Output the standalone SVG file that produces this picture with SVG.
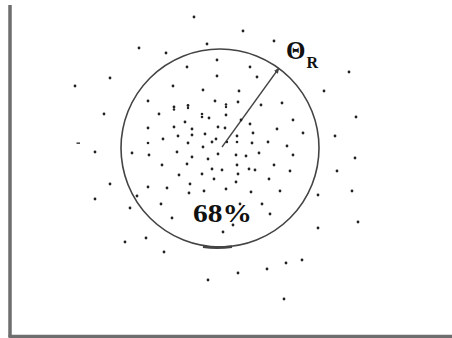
<svg xmlns="http://www.w3.org/2000/svg" width="452" height="338" viewBox="0 0 452 338">
<style>
.d{fill:#222}
.axis{stroke:#6e6e6e;stroke-width:3.5;fill:none}
.ring{stroke:#444;stroke-width:1.6;fill:none}
.lbl{font-family:"Liberation Serif","Times New Roman",serif;fill:#111}
</style>
<defs>
<marker id="ah" viewBox="0 0 10 10" refX="9" refY="5" markerWidth="6" markerHeight="6" orient="auto" markerUnits="userSpaceOnUse">
<path d="M0,1 L10,5 L0,9 z" fill="#444"/>
</marker>
</defs>
<rect width="452" height="338" fill="#fff"/>
<g id="axes">
<line class="axis" x1="10" y1="5" x2="10" y2="337"/>
<line class="axis" x1="8.5" y1="336.5" x2="452" y2="336.5" stroke-width="2.5"/>
</g>
<g id="circle">
<circle class="ring" cx="220" cy="148" r="99"/>
<path d="M203,246.8 Q218,248.6 232,246.6" stroke="#444" stroke-width="2.6" fill="none"/>
</g>
<g id="connectors">
<line x1="222" y1="147" x2="279" y2="68" stroke="#444" stroke-width="1.3" marker-end="url(#ah)"/>
</g>
<g id="dots">
<circle class="d" cx="194" cy="17" r="1.4"/>
<circle class="d" cx="207" cy="44" r="1.4"/>
<circle class="d" cx="139" cy="48" r="1.4"/>
<circle class="d" cx="166" cy="53" r="1.4"/>
<circle class="d" cx="243" cy="31" r="1.4"/>
<circle class="d" cx="274" cy="41" r="1.4"/>
<circle class="d" cx="110" cy="78" r="1.4"/>
<circle class="d" cx="75" cy="86" r="1.4"/>
<circle class="d" cx="349" cy="72" r="1.4"/>
<circle class="d" cx="324" cy="91" r="1.4"/>
<circle class="d" cx="356" cy="117" r="1.4"/>
<circle class="d" cx="335" cy="136" r="1.4"/>
<circle class="d" cx="104" cy="114" r="1.4"/>
<rect class="d" x="76.5" y="142.5" width="3.5" height="1.3"/>
<circle class="d" cx="95" cy="152" r="1.4"/>
<circle class="d" cx="355" cy="158" r="1.4"/>
<circle class="d" cx="110" cy="184" r="1.4"/>
<circle class="d" cx="95" cy="199" r="1.4"/>
<circle class="d" cx="352" cy="191" r="1.4"/>
<circle class="d" cx="358" cy="222" r="1.4"/>
<circle class="d" cx="318" cy="228" r="1.4"/>
<circle class="d" cx="318" cy="195" r="1.4"/>
<circle class="d" cx="337" cy="171" r="1.4"/>
<circle class="d" cx="125" cy="242" r="1.4"/>
<circle class="d" cx="146" cy="238" r="1.4"/>
<circle class="d" cx="164" cy="252" r="1.4"/>
<circle class="d" cx="208" cy="280" r="1.4"/>
<circle class="d" cx="238" cy="273" r="1.4"/>
<circle class="d" cx="267" cy="269" r="1.4"/>
<circle class="d" cx="286" cy="263" r="1.4"/>
<circle class="d" cx="302" cy="260" r="1.4"/>
<circle class="d" cx="284" cy="299" r="1.4"/>
<circle class="d" cx="130" cy="208" r="1.4"/>
<circle class="d" cx="217" cy="60" r="1.4"/>
<circle class="d" cx="187" cy="67" r="1.4"/>
<circle class="d" cx="250" cy="67" r="1.4"/>
<circle class="d" cx="217" cy="76" r="1.4"/>
<circle class="d" cx="257" cy="77" r="1.4"/>
<circle class="d" cx="173" cy="86" r="1.4"/>
<circle class="d" cx="203" cy="90" r="1.4"/>
<circle class="d" cx="239" cy="91" r="1.4"/>
<circle class="d" cx="148" cy="101" r="1.4"/>
<circle class="d" cx="215" cy="101" r="1.4"/>
<circle class="d" cx="238" cy="102" r="1.4"/>
<circle class="d" cx="174" cy="107" r="1.4"/>
<circle class="d" cx="174" cy="109.5" r="1.2"/>
<circle class="d" cx="188" cy="105.5" r="1.4"/>
<circle class="d" cx="188" cy="108" r="1.2"/>
<circle class="d" cx="226" cy="104.5" r="1.3"/>
<circle class="d" cx="226" cy="107" r="1.2"/>
<circle class="d" cx="261" cy="105" r="1.4"/>
<circle class="d" cx="282" cy="103" r="1.4"/>
<circle class="d" cx="159" cy="114" r="1.4"/>
<circle class="d" cx="202" cy="114" r="1.3"/>
<circle class="d" cx="202" cy="117" r="1.3"/>
<circle class="d" cx="209" cy="118" r="1.4"/>
<circle class="d" cx="226" cy="115" r="1.4"/>
<circle class="d" cx="185" cy="122" r="1.4"/>
<circle class="d" cx="241" cy="120" r="1.4"/>
<circle class="d" cx="293" cy="120" r="1.4"/>
<circle class="d" cx="250" cy="124" r="1.4"/>
<circle class="d" cx="148" cy="128" r="1.4"/>
<circle class="d" cx="174" cy="127" r="1.4"/>
<circle class="d" cx="192" cy="129" r="1.4"/>
<circle class="d" cx="218" cy="127" r="1.4"/>
<circle class="d" cx="225" cy="128" r="1.4"/>
<circle class="d" cx="277" cy="129" r="1.4"/>
<circle class="d" cx="303" cy="133" r="1.4"/>
<circle class="d" cx="178" cy="136" r="1.4"/>
<circle class="d" cx="192" cy="135" r="1.4"/>
<circle class="d" cx="205" cy="134" r="1.4"/>
<circle class="d" cx="216" cy="139" r="1.4"/>
<circle class="d" cx="237" cy="136" r="1.4"/>
<circle class="d" cx="253" cy="133" r="1.4"/>
<circle class="d" cx="163" cy="139" r="1.4"/>
<circle class="d" cx="148" cy="143" r="1.3"/>
<circle class="d" cx="188" cy="143" r="1.4"/>
<circle class="d" cx="212" cy="142" r="1.4"/>
<circle class="d" cx="237" cy="142" r="1.3"/>
<circle class="d" cx="252" cy="143" r="1.4"/>
<circle class="d" cx="268" cy="142" r="1.4"/>
<circle class="d" cx="203" cy="147" r="1.4"/>
<circle class="d" cx="287" cy="146" r="1.4"/>
<circle class="d" cx="227" cy="142" r="1.2"/>
<circle class="d" cx="132" cy="153" r="1.4"/>
<circle class="d" cx="149" cy="155" r="1.4"/>
<circle class="d" cx="177" cy="152" r="1.4"/>
<circle class="d" cx="192" cy="157" r="1.4"/>
<circle class="d" cx="208" cy="159" r="1.4"/>
<circle class="d" cx="218" cy="154" r="1.4"/>
<circle class="d" cx="236" cy="155" r="1.4"/>
<circle class="d" cx="246" cy="156" r="1.4"/>
<circle class="d" cx="259" cy="153" r="1.4"/>
<circle class="d" cx="293" cy="155" r="1.4"/>
<circle class="d" cx="162" cy="165" r="1.4"/>
<circle class="d" cx="187" cy="164" r="1.4"/>
<circle class="d" cx="222" cy="170" r="1.4"/>
<circle class="d" cx="237" cy="165" r="1.4"/>
<circle class="d" cx="249" cy="169" r="1.4"/>
<circle class="d" cx="255" cy="170" r="1.4"/>
<circle class="d" cx="274" cy="165" r="1.4"/>
<circle class="d" cx="179" cy="175" r="1.4"/>
<circle class="d" cx="202" cy="174" r="1.4"/>
<circle class="d" cx="212" cy="169" r="1.4"/>
<circle class="d" cx="238" cy="174" r="1.4"/>
<circle class="d" cx="214" cy="179" r="1.4"/>
<circle class="d" cx="236" cy="182" r="1.4"/>
<circle class="d" cx="269" cy="179" r="1.4"/>
<circle class="d" cx="290" cy="171" r="1.4"/>
<circle class="d" cx="148" cy="187" r="1.4"/>
<circle class="d" cx="167" cy="188" r="1.4"/>
<circle class="d" cx="190" cy="184" r="1.4"/>
<circle class="d" cx="189" cy="193" r="1.4"/>
<circle class="d" cx="204" cy="191" r="1.4"/>
<circle class="d" cx="226" cy="189" r="1.4"/>
<circle class="d" cx="251" cy="192" r="1.4"/>
<circle class="d" cx="280" cy="191" r="1.4"/>
<circle class="d" cx="137" cy="196" r="1.4"/>
<circle class="d" cx="161" cy="204" r="1.4"/>
<circle class="d" cx="240" cy="204" r="1.4"/>
<circle class="d" cx="262" cy="204" r="1.4"/>
<circle class="d" cx="172" cy="218" r="1.4"/>
<circle class="d" cx="270" cy="214" r="1.4"/>
<circle class="d" cx="233" cy="225" r="1.4"/>
<circle class="d" cx="223" cy="232" r="1.4"/>
</g>
<g id="label-theta">
<text class="lbl" x="286" y="59" font-size="25" font-weight="bold">Θ</text>
<text class="lbl" x="306.5" y="68" font-size="16" font-weight="bold">R</text>
</g>
<g id="label-pct">
<text class="lbl" x="193" y="222" font-size="25" font-weight="bold" textLength="59" lengthAdjust="spacingAndGlyphs">68%</text>
</g>
</svg>
